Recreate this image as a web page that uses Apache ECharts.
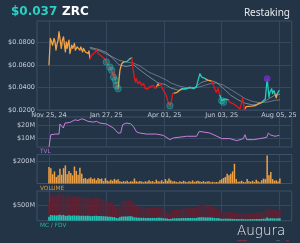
<!DOCTYPE html>
<html><head><meta charset="utf-8">
<script src="https://cdn.jsdelivr.net/npm/echarts@6/dist/echarts.min.js"></script>
<style>html,body{margin:0;padding:0;background:#243447;}#c{width:300px;height:243px;}</style>
</head><body><div id="c"></div>
<script>
// ---------- data ----------
const startDate = [2024, 10, 25];          // day 0 = Nov 25, 2024
const xTickDays = [0, 63, 127, 190, 253];
const priceTicks = [0.02, 0.04, 0.06, 0.08];
const tvlTicks = [10, 20];
const volTicks = [200];
const capTicks = [500];
const titlePrice = '$0.037';
const titleSymbol = 'ZRC';
const category = 'Restaking';

const priceDays = [0,1.5,3,4,5.5,6.6,7.7,9,10,11,12.5,13.5,14.7,16,17,18,19,20,21,22,23,25,26,28,29,31,32,34,35,37,38,40,41,43,44,45,
47,49,51,52,54,56,58,60,62,63,65,67,69,71,72,73,74,76,
78,80,82,84,86,87,89,91,
92,93.5,95,96,98,100,102,104,106,108,109,111,113,115,117,118,
120,121,122,125,127,129,130,131,133,134.5,136,137,
139,141,143,146,148,151,155,159,162,164,166,168,170,172,
174,175,177,179,181,183,184,186,188,190,192,194,195,197,
199,201,203,205,206,208,210,212,213,215,
217,219,223,227,230,234,236,238,239,240,242,243,245,246,247.5,248.6,250,251,253];
const priceVals = [0.0600,0.0834,0.0848,0.0774,0.0834,0.0804,0.0730,0.0789,0.0819,0.0893,0.0879,0.0745,0.0819,0.0848,0.0774,0.0714,0.0804,0.0745,0.0789,0.0819,0.0700,0.0774,0.0745,0.0789,0.0730,0.0759,0.0774,0.0730,0.0759,0.0714,0.0745,0.0714,0.0730,0.0700,0.0723,0.0655,
0.0685,0.0700,0.0714,0.0736,0.0700,0.0685,0.0676,0.0664,0.0646,0.0625,0.0600,0.0580,0.0551,0.0491,0.0533,0.0462,0.0417,0.0388,
0.0551,0.0610,0.0625,0.0640,0.0631,0.0640,0.0654,0.0664,
0.0596,0.0506,0.0447,0.0477,0.0432,0.0453,0.0417,0.0435,0.0388,0.0402,0.0388,0.0408,0.0399,0.0417,0.0390,0.0402,
0.0432,0.0417,0.0437,0.0388,0.0357,0.0328,0.0313,0.0268,0.0238,0.0268,0.0343,0.0348,
0.0343,0.0357,0.0366,0.0388,0.0393,0.0388,0.0402,0.0388,0.0402,0.0462,0.0521,0.0491,0.0506,0.0477,
0.0470,0.0462,0.0477,0.0455,0.0417,0.0417,0.0357,0.0390,0.0328,0.0283,0.0268,0.0298,0.0283,0.0289,
0.0268,0.0283,0.0254,0.0268,0.0238,0.0247,0.0209,0.0268,0.0310,0.0205,
0.0230,0.0230,0.0234,0.0238,0.0254,0.0268,0.0283,0.0298,0.0313,0.0477,0.0313,0.0357,0.0388,0.0346,0.0372,0.0343,0.0307,0.0343,0.0372];
// trend of the segment ending at each point: o = neutral, r = down, t = up
const trendRuns = [['o',36],['r',18],['o',3],['t',4],['o',1],['r',16],['o',3],['r',9],['o',4],['t',10],['o',4],['r',5],['t',5],['r',10],['o',6],['t',10],['o',2],['t',1]];
const signalDays = [63,67,69,71,73,74,76,133,190,192];
const peakDays = [240];

const maFastDays = [45,55,63,70,77,85,93,100,110,120,128,134,142,150,160,168,176,184,192,200,208,216,224,232,240,248,254];
const maFastVals = [0.0755,0.0735,0.0710,0.0660,0.0600,0.0585,0.0600,0.0555,0.0495,0.0440,0.0425,0.0395,0.0375,0.0385,0.0400,0.0445,0.0465,0.0445,0.0390,0.0330,0.0290,0.0260,0.0245,0.0255,0.0290,0.0330,0.0340];
const maSlowDays = [45,55,63,70,77,85,93,100,110,120,128,134,142,150,160,168,176,184,192,200,208,216,224,232,240,248,254];
const maSlowVals = [0.0745,0.0725,0.0695,0.0670,0.0640,0.0625,0.0615,0.0590,0.0535,0.0500,0.0470,0.0440,0.0415,0.0400,0.0395,0.0410,0.0430,0.0440,0.0420,0.0380,0.0340,0.0300,0.0275,0.0265,0.0270,0.0285,0.0290];

const tvlDays = [0,2,7,11,12,14,15.7,17.6,18.7,23,24.6,28.6,32,36,39.6,43,48.7,52.4,56,63,71,76,78.8,81,84.7,89.8,92.7,96.4,100,107.4,118.4,125.7,133,136.7,151.4,162.4,165.3,169.7,177,182.6,190,199,206.5,213.8,215.6,217.5,224.8,232,239.5,241.3,244,248.6,250.5,253.4];
const tvlVals = [3.1,12.5,13,13,20.8,21.5,17.7,21.5,21,22,21.5,24,23.5,24.8,24,22.8,22.3,22.8,21.5,20.8,17.7,13.8,13.8,20.2,21.5,21,19,14.6,13.8,13,13,12,8.7,10,11.3,11.3,15.1,14.6,13.8,12,9.5,9.5,7.9,9.5,12.5,8.7,8.7,9.5,10.5,13.8,12.2,11.3,10.6,12];

const barStepDays = 2;  // one bar every 2 days from day 0
const volVals = [150,140,85,110,60,75,135,80,140,165,
85,115,95,75,155,115,80,145,90,45,
50,38,45,55,40,48,30,50,40,45,
22,48,28,20,35,25,42,30,38,20,
15,22,18,25,14,20,18,45,20,15,
22,18,12,20,15,30,18,22,12,35,
20,18,30,15,40,25,45,30,18,22,
15,12,20,14,25,18,12,20,16,28,
15,20,24,18,15,22,14,18,20,12,
16,10,14,12,30,40,50,60,90,75,
90,110,180,40,15,18,25,14,12,42,
20,15,25,14,35,20,12,30,45,40,
255,75,105,40,25,30,18,45];
const fdvVals = [600,860,800,830,770,840,900,800,870,730,
765,835,755,765,805,755,790,745,745,760,
730,735,735,685,705,725,750,715,700,690,
675,660,625,600,580,530,540,410,375,560,
620,635,650,645,660,670,610,490,485,440,
460,425,445,395,410,405,410,415,405,410,
440,445,410,375,345,320,255,265,350,355,
360,370,380,395,400,395,400,405,405,395,
400,410,470,530,500,515,485,480,480,475,
445,425,365,395,335,290,275,305,295,285,
285,275,265,245,250,215,275,240,225,235,
235,240,240,245,250,260,265,275,290,305,
485,320,380,355,360,315,365,375];
const mcVals = [125,180,170,175,165,178,190,170,185,155,
162,177,160,162,170,160,168,158,158,161,
155,156,156,145,150,154,159,152,148,146,
143,140,133,127,123,112,115,88,80,119,
132,135,138,137,140,142,130,104,103,93,
98,90,94,84,87,86,87,88,86,87,
93,94,87,80,73,68,54,56,74,75,
76,78,80,84,85,84,85,86,86,84,
85,87,100,112,106,109,103,102,102,101,
94,90,77,84,71,62,58,65,63,60,
60,58,56,52,53,46,58,51,48,50,
50,51,51,52,53,55,56,58,62,65,
103,68,81,75,76,67,78,80];

// ---------- styling ----------
const BG = '#243447', GRIDC = '#36485e', BORDER = '#3e5168', LBL = '#c3cad4';
const FONT = 'DejaVu Sans';
const COLORS = { o: '#f2a245', r: '#e4161c', t: '#22cbbd' };
const MONTHS = ['Jan','Feb','Mar','Apr','May','Jun','Jul','Aug','Sep','Oct','Nov','Dec'];

function fmtDate(d) {
  const dt = new Date(startDate[0], startDate[1], startDate[2] + Math.round(d));
  return MONTHS[dt.getMonth()] + ' ' + String(dt.getDate()).padStart(2, '0') + ', ' + String(dt.getFullYear()).slice(2);
}

const trend = [];
trendRuns.forEach(([c, n]) => { for (let k = 0; k < n; k++) trend.push(c); });

function trendData(code) {
  const out = [];
  for (let i = 1; i < priceDays.length; i++) {
    if (trend[i] !== code) continue;
    const cont = i > 1 && trend[i - 1] === code;
    if (!cont) {
      if (out.length) out.push([priceDays[i - 1], '-']);
      out.push([priceDays[i - 1], priceVals[i - 1]]);
    }
    out.push([priceDays[i], priceVals[i]]);
  }
  return out;
}
const pair = (a, b) => a.map((x, i) => [x, b[i]]);
const atDays = days => days.map(d => [d, priceVals[priceDays.indexOf(d)]]);
const bars = vals => vals.map((v, i) => [i * barStepDays, v]);

const XMIN = -13.2, XMAX = 267;
function xAx(gi, showLabel) {
  return {
    type: 'value', gridIndex: gi, min: XMIN, max: XMAX,
    axisLine: { show: false },
    axisTick: { show: false, customValues: xTickDays },
    splitLine: { show: true, lineStyle: { color: GRIDC, width: 1 } },
    axisLabel: { show: showLabel, customValues: xTickDays, formatter: fmtDate, color: LBL, fontSize: 6.5, fontFamily: FONT, margin: 2 }
  };
}
function yAx(gi, min, max, ticks, fmt) {
  return {
    type: 'value', gridIndex: gi, min: min, max: max,
    axisLine: { show: false },
    axisTick: { show: false, customValues: ticks },
    splitLine: { show: true, lineStyle: { color: GRIDC, width: 1 } },
    axisLabel: { customValues: ticks, formatter: fmt, color: LBL, fontSize: 6.5, fontFamily: FONT, margin: 2 }
  };
}
const gridBase = { left: 37, right: 8.3, show: true, borderColor: BORDER, borderWidth: 1, backgroundColor: 'transparent' };

const chart = echarts.init(document.getElementById('c'), null, { renderer: 'canvas' });
const series = [];
series.push({ type: 'line', xAxisIndex: 0, yAxisIndex: 0, data: pair(maSlowDays, maSlowVals), symbol: 'none', lineStyle: { color: 'rgba(185,192,204,0.5)', width: 0.9 }, z: 2 });
series.push({ type: 'line', xAxisIndex: 0, yAxisIndex: 0, data: pair(maFastDays, maFastVals), symbol: 'none', lineStyle: { color: 'rgba(205,210,220,0.55)', width: 0.9 }, z: 2 });
['o', 'r', 't'].forEach(c => series.push({
  type: 'line', xAxisIndex: 0, yAxisIndex: 0, data: trendData(c), symbol: 'none', connectNulls: false,
  lineStyle: { color: COLORS[c], width: 1.3, join: 'round', cap: 'round' }, z: 3
}));
series.push({ type: 'scatter', xAxisIndex: 0, yAxisIndex: 0, data: atDays(signalDays), symbolSize: 6.5,
  itemStyle: { color: 'rgba(34,203,189,0.4)', borderColor: 'rgba(40,215,200,0.5)', borderWidth: 0.8 }, z: 4 });
series.push({ type: 'scatter', xAxisIndex: 0, yAxisIndex: 0, data: atDays(peakDays), symbolSize: 6,
  itemStyle: { color: '#6e28c4', borderColor: '#7d35d6', borderWidth: 0.8 }, z: 4 });
series.push({ type: 'line', xAxisIndex: 1, yAxisIndex: 1, data: pair(tvlDays, tvlVals), symbol: 'none', lineStyle: { color: '#c77fda', width: 1 } });
series.push({ type: 'bar', xAxisIndex: 2, yAxisIndex: 2, data: bars(volVals), barWidth: 1.5, itemStyle: { color: '#f0a143' } });
series.push({ type: 'bar', xAxisIndex: 3, yAxisIndex: 3, data: bars(fdvVals), barWidth: 1.6, barGap: '-100%', itemStyle: { color: '#5e2234' } });
series.push({ type: 'bar', xAxisIndex: 3, yAxisIndex: 3, data: bars(mcVals), barWidth: 1.6, barGap: '-100%', itemStyle: { color: '#1fc6b8' } });

chart.setOption({
  backgroundColor: BG,
  animation: false,
  grid: [
    Object.assign({ top: 21, height: 89 }, gridBase),
    Object.assign({ top: 117, height: 30 }, gridBase),
    Object.assign({ top: 154.5, height: 29 }, gridBase),
    Object.assign({ top: 191, height: 29.7 }, gridBase)
  ],
  xAxis: [xAx(0, true), xAx(1, false), xAx(2, false), xAx(3, false)],
  yAxis: [
    yAx(0, 0.02, 0.0988, priceTicks, v => '$' + v.toFixed(4)),
    yAx(1, 3, 26.2, tvlTicks, v => '$' + v + 'M'),
    yAx(2, 0, 265, volTicks, v => '$' + v + 'M'),
    yAx(3, 0, 950, capTicks, v => '$' + v + 'M')
  ],
  series: series,
  graphic: [
    { type: 'text', style: { text: titlePrice, x: 11, y: 12, fill: '#2ccfc2', fontSize: 12, fontWeight: 'bold', fontFamily: FONT, verticalAlign: 'middle' } },
    { type: 'text', style: { text: titleSymbol, x: 62, y: 12, fill: '#ffffff', fontSize: 12, fontWeight: 'bold', fontFamily: FONT, verticalAlign: 'middle' } },
    { type: 'text', style: { text: category, x: 290, y: 13, fill: '#e6e9ee', fontSize: 10, fontFamily: 'Noto Sans', align: 'right', verticalAlign: 'middle' } },
    { type: 'text', style: { text: 'TVL', x: 40, y: 151.5, fill: '#b673cc', fontSize: 5.8, fontFamily: FONT, verticalAlign: 'middle' } },
    { type: 'text', style: { text: 'VOLUME', x: 40, y: 188, fill: '#d99a3f', fontSize: 5.8, fontFamily: FONT, verticalAlign: 'middle' } },
    { type: 'text', style: { text: 'MC / FDV', x: 40, y: 225.7, fill: '#1fb5a8', fontSize: 5.8, fontFamily: FONT, verticalAlign: 'middle' } },
    { type: 'text', style: { text: 'Augura', x: 237, y: 231.5, fill: '#e9edf2', fontSize: 13.5, fontFamily: FONT, fontWeight: 'lighter', verticalAlign: 'middle' } },
    { type: 'circle', shape: { cx: 241.6, cy: 234, r: 0.9 }, style: { fill: '#e03030' } },
    { type: 'line', shape: { x1: 237, y1: 240.7, x2: 247, y2: 240.7 }, style: { stroke: '#a03040', lineWidth: 0.8 } },
    { type: 'line', shape: { x1: 276, y1: 240.7, x2: 280, y2: 240.7 }, style: { stroke: '#606a78', lineWidth: 0.8 } },
    { type: 'line', shape: { x1: 286, y1: 240.7, x2: 289, y2: 240.7 }, style: { stroke: '#a03040', lineWidth: 0.8 } }
  ]
});
</script></body></html>
